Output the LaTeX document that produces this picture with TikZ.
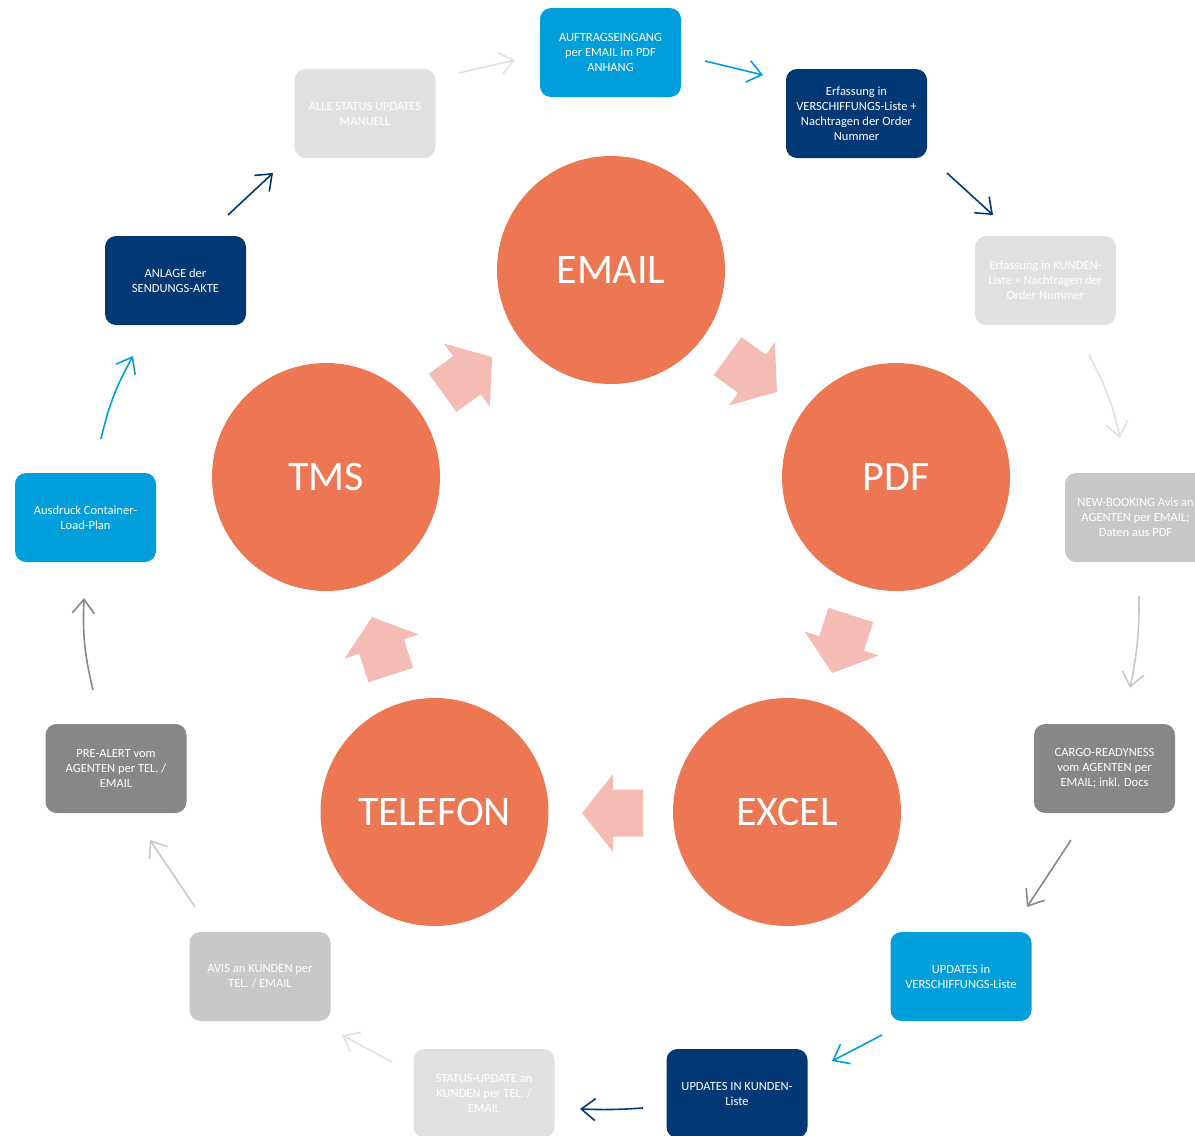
\documentclass[tikz,border=0pt]{standalone}
\usepackage{fontspec}
\setmainfont{Carlito}
\usetikzlibrary{arrows.meta,calc}
\definecolor{cblue}{RGB}{0,158,219}
\definecolor{cnavy}{RGB}{0,56,118}
\definecolor{clgrey}{RGB}{225,225,225}
\definecolor{cmgrey}{RGB}{200,200,200}
\definecolor{cdgrey}{RGB}{135,135,135}
\definecolor{corange}{RGB}{236,119,82}
\definecolor{cpink}{RGB}{244,188,180}
\newcommand{\bArrow}[2]{\fill[cpink, shift={#1}, rotate=#2] (0,0) -- (-31,39) -- (-31,23.5) -- (-61,23.5) -- (-61,-23.5) -- (-31,-23.5) -- (-31,-39) -- cycle;}
\begin{document}
\begin{tikzpicture}[x=1pt,y=-1pt,
 box/.style={rectangle, rounded corners=11pt, minimum width=141pt, minimum height=89pt, inner sep=0pt, text=white, align=center, font=\fontsize{12.5}{15}\selectfont},
 circ/.style={circle, fill=corange, minimum size=228pt, inner sep=0pt, text=white, font=\fontsize{42}{50}\selectfont},
 conn/.style={line width=1.6pt, -{Straight Barb[length=14pt,width=22pt]}}]
\clip (0,0) rectangle (1195,1136);
% circles
\node[circ] (email) at (611,270) {EMAIL};
\node[circ] (pdf) at (896,477) {PDF};
\node[circ] (excel) at (787,812) {EXCEL};
\node[circ] (tel) at (434.5,812) {TELEFON};
\node[circ] (tms) at (326,477) {TMS};
% block arrows
\bArrow{(492,357)}{36}
\bArrow{(777,392)}{-36}
\bArrow{(832,673)}{-108}
\bArrow{(582,813)}{180}
\bArrow{(372,617)}{108}
% boxes
\node[box, fill=cblue] (b1) at (610.5,52.5) {AUFTRAGSEINGANG\\per EMAIL im PDF\\ANHANG};
\node[box, fill=cnavy] (b2) at (856.5,113.5) {Erfassung in\\VERSCHIFFUNGS-Liste +\\Nachtragen der Order\\Nummer};
\node[box, fill=clgrey] (b3) at (1045.5,280.5) {Erfassung in KUNDEN-\\Liste + Nachtragen der\\Order Nummer};
\node[box, fill=cmgrey] (b4) at (1135.5,517.5) {NEW-BOOKING Avis an\\AGENTEN per EMAIL;\\Daten aus PDF};
\node[box, fill=cdgrey] (b5) at (1104.5,768.5) {CARGO-READYNESS\\vom AGENTEN per\\EMAIL; inkl. Docs};
\node[box, fill=cblue] (b6) at (961,976.5) {UPDATES in\\VERSCHIFFUNGS-Liste};
\node[box, fill=cnavy] (b7) at (737,1093.5) {UPDATES IN KUNDEN-\\Liste};
\node[box, fill=clgrey] (b8) at (484,1093.5) {STATUS-UPDATE an\\KUNDEN per TEL. /\\EMAIL};
\node[box, fill=cmgrey] (b9) at (260,976.5) {AVIS an KUNDEN per\\TEL. / EMAIL};
\node[box, fill=cdgrey] (b10) at (116,768.5) {PRE-ALERT vom\\AGENTEN per TEL. /\\EMAIL};
\node[box, fill=cblue] (b11) at (85.5,517.5) {Ausdruck Container-\\Load-Plan};
\node[box, fill=cnavy] (b12) at (175.5,280.5) {ANLAGE der\\SENDUNGS-AKTE};
\node[box, fill=clgrey] (b13) at (365,113.5) {ALLE STATUS UPDATES\\MANUELL};
% connectors
\draw[conn, clgrey] ([shift={(94,-40.5)}]b13.center) -- ([shift={(-95.5,7.5)}]b1.center);
\draw[conn, cblue] ([shift={(94.5,8.5)}]b1.center) -- ([shift={(-93.5,-38.5)}]b2.center);
\draw[conn, cnavy] ([shift={(90.5,59.5)}]b2.center) -- ([shift={(-52.5,-65.5)}]b3.center);
\draw[conn, clgrey] ([shift={(43.5,74.5)}]b3.center) to[bend left=8] ([shift={(-15.5,-79.5)}]b4.center);
\draw[conn, cmgrey] ([shift={(3.5,78.5)}]b4.center) to[bend left=6] ([shift={(25.5,-80.5)}]b5.center);
\draw[conn, cdgrey] ([shift={(-33.5,71.5)}]b5.center) -- ([shift={(66,-69.5)}]b6.center);
\draw[conn, cblue] ([shift={(-79,58.5)}]b6.center) -- ([shift={(95,-32.5)}]b7.center);
\draw[conn, cnavy] ([shift={(-94,14.5)}]b7.center) to[bend left=3] ([shift={(96,15.5)}]b8.center);
\draw[conn, clgrey] ([shift={(-92,-31.5)}]b8.center) -- ([shift={(82,58.5)}]b9.center);
\draw[conn, cmgrey] ([shift={(-65,-69.5)}]b9.center) -- ([shift={(34,71.5)}]b10.center);
\draw[conn, cdgrey] ([shift={(-23,-78.5)}]b10.center) to[bend left=8] ([shift={(-1.5,80.5)}]b11.center);
\draw[conn, cblue] ([shift={(15.5,-78.5)}]b11.center) to[bend left=8] ([shift={(-42.5,75.5)}]b12.center);
\draw[conn, cnavy] ([shift={(52.5,-65.5)}]b12.center) -- ([shift={(-92,59.5)}]b13.center);
\end{tikzpicture}
\end{document}
